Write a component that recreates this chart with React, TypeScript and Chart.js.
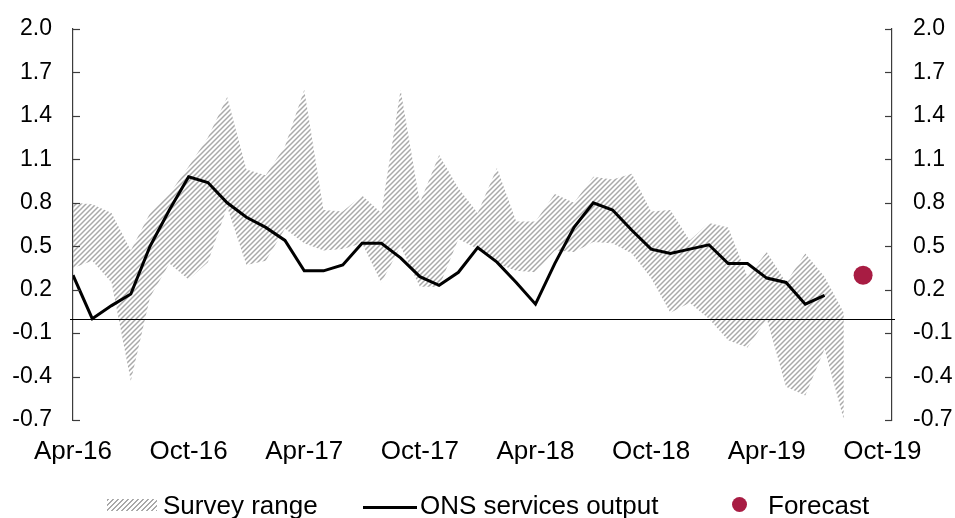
import React, { useEffect, useRef } from 'react';
import { Chart, registerables } from 'chart.js';

Chart.register(...registerables);

// X axis: month index 0 = Apr-16
const xTickPositions = [0, 6, 12, 18, 24, 30, 36, 42];
const xTickLabels = ['Apr-16', 'Oct-16', 'Apr-17', 'Oct-17', 'Apr-18', 'Oct-18', 'Apr-19', 'Oct-19'];
const yTicks = [-0.7, -0.4, -0.1, 0.2, 0.5, 0.8, 1.1, 1.4, 1.7, 2.0];

// ONS services output, Apr-16 .. Jul-19
const onsOutput = [
  0.30, 0.00, 0.09, 0.17, 0.50, 0.75, 0.98, 0.94, 0.80, 0.70, 0.63, 0.54,
  0.33, 0.33, 0.37, 0.52, 0.52, 0.42, 0.29, 0.23, 0.32, 0.49, 0.39, 0.25,
  0.10, 0.38, 0.63, 0.80, 0.75, 0.61, 0.48, 0.45, 0.48, 0.51, 0.38, 0.38,
  0.28, 0.25, 0.10, 0.16,
];

// Survey range, Apr-16 .. Aug-19
const surveyUpper = [
  0.80, 0.79, 0.73, 0.47, 0.73, 0.86, 1.05, 1.25, 1.53, 1.03, 0.99, 1.19,
  1.58, 0.75, 0.74, 0.85, 0.73, 1.58, 0.80, 1.13, 0.90, 0.73, 1.04, 0.67,
  0.67, 0.86, 0.80, 0.98, 0.96, 1.00, 0.74, 0.75, 0.54, 0.66, 0.63, 0.29,
  0.46, 0.25, 0.45, 0.29, 0.04,
];
const surveyLower = [
  0.35, 0.40, 0.25, -0.43, 0.15, 0.38, 0.27, 0.39, 0.77, 0.37, 0.40, 0.62,
  0.52, 0.47, 0.48, 0.52, 0.25, 0.50, 0.22, 0.22, 0.55, 0.48, 0.38, 0.33,
  0.32, 0.47, 0.46, 0.53, 0.52, 0.45, 0.28, 0.04, 0.11, 0.00, -0.15, -0.20,
  0.00, -0.47, -0.53, -0.21, -0.70,
];

// Forecast (Sep-19)
const forecastMonth = [41];
const forecastValue = [0.30];

const FONT = '"Liberation Sans", Arial, Helvetica, sans-serif';
const HATCH = '#a9a9a9';
const FORECAST_COLOR = '#a81c43';

function makeHatch(ctx: CanvasRenderingContext2D) {
  const p = 5;
  const c = document.createElement('canvas');
  c.width = p;
  c.height = p;
  const g = c.getContext('2d')!;
  g.strokeStyle = HATCH;
  g.lineWidth = 1.5;
  g.beginPath();
  g.moveTo(-1, p + 1);
  g.lineTo(p + 1, -1);
  g.moveTo(-1, 1);
  g.lineTo(1, -1);
  g.moveTo(p - 1, p + 1);
  g.lineTo(p + 1, p - 1);
  g.stroke();
  return ctx.createPattern(c, 'repeat')!;
}

const axisDecor = {
  id: 'axisDecor',
  afterDatasetsDraw(chart: any) {
    const ctx = chart.ctx;
    const area = chart.chartArea;
    const yl = chart.scales.yLeft;
    ctx.save();
    // zero line
    const y0 = Math.round(yl.getPixelForValue(0)) + 0.5;
    ctx.strokeStyle = '#000';
    ctx.lineWidth = 1.2;
    ctx.beginPath();
    ctx.moveTo(area.left - 3, y0);
    ctx.lineTo(area.right + 3, y0);
    ctx.stroke();
    // inward tick marks
    ctx.strokeStyle = '#3c3c3c';
    ctx.lineWidth = 1.2;
    ['yLeft', 'yRight'].forEach((id) => {
      const s = chart.scales[id];
      const x0 = id === 'yLeft' ? area.left : area.right;
      const dir = id === 'yLeft' ? 1 : -1;
      s.ticks.forEach((t: any) => {
        const y = Math.round(s.getPixelForValue(t.value)) + 0.5;
        ctx.beginPath();
        ctx.moveTo(x0, y);
        ctx.lineTo(x0 + dir * 7, y);
        ctx.stroke();
      });
    });
    ctx.restore();
  },
};

export default function App() {
  const ref = useRef<HTMLCanvasElement>(null);

  useEffect(() => {
    const canvas = ref.current!;
    const ctx = canvas.getContext('2d')!;
    const hatch = makeHatch(ctx);

    const yScale = (position: 'left' | 'right', width: number) => ({
      type: 'linear' as const,
      position,
      min: -0.7,
      max: 2.0,
      afterBuildTicks: (s: any) => {
        s.ticks = yTicks.map((v) => ({ value: v }));
      },
      afterFit: (s: any) => {
        s.width = width;
      },
      grid: {
        display: true,
        drawOnChartArea: false,
        drawTicks: true,
        tickLength: 21,
        tickColor: 'rgba(0,0,0,0)',
        color: 'rgba(0,0,0,0)',
      },
      border: { display: true, color: '#3c3c3c', width: 1.2 },
      ticks: {
        padding: 0,
        color: '#000',
        font: { family: FONT, size: 23 },
        callback: (v: any) => Number(v).toFixed(1),
      },
    });

    const chart = new Chart(canvas, {
      type: 'line',
      data: {
        datasets: [
          {
            label: 'ONS services output',
            data: onsOutput.map((v, i) => ({ x: i, y: v })),
            borderColor: '#000',
            borderWidth: 3,
            pointRadius: 0,
            fill: false,
            tension: 0,
            order: 0,
            yAxisID: 'yLeft',
          },
          {
            label: 'Forecast',
            data: forecastMonth.map((m, i) => ({ x: m, y: forecastValue[i] })),
            showLine: false,
            pointRadius: 9.5,
            pointBackgroundColor: FORECAST_COLOR,
            pointBorderColor: FORECAST_COLOR,
            pointBorderWidth: 0,
            order: 1,
            yAxisID: 'yLeft',
          },
          {
            label: 'Survey range',
            data: surveyUpper.map((v, i) => ({ x: i, y: v })),
            borderWidth: 0,
            borderColor: 'rgba(0,0,0,0)',
            backgroundColor: hatch,
            pointRadius: 0,
            fill: '+1',
            tension: 0,
            order: 2,
            yAxisID: 'yLeft',
          },
          {
            label: 'Survey lower',
            data: surveyLower.map((v, i) => ({ x: i, y: v })),
            borderWidth: 0,
            borderColor: 'rgba(0,0,0,0)',
            pointRadius: 0,
            fill: false,
            tension: 0,
            order: 3,
            yAxisID: 'yLeft',
          },
        ],
      },
      options: {
        animation: false,
        responsive: false,
        devicePixelRatio: 1,
        layout: { padding: { top: 29, bottom: 0, left: 0, right: 0 } },
        plugins: {
          legend: { display: false },
          tooltip: { enabled: false },
        },
        scales: {
          x: {
            type: 'linear',
            min: 0,
            max: 42.5,
            afterBuildTicks: (s: any) => {
              s.ticks = xTickPositions.map((v) => ({ value: v }));
            },
            afterFit: (s: any) => {
              s.height = 98;
            },
            grid: { display: false, drawTicks: false },
            border: { display: false },
            ticks: {
              padding: 16,
              maxRotation: 0,
              autoSkip: false,
              color: '#000',
              font: { family: FONT, size: 26 },
              callback: (v: any) => {
                const k = xTickPositions.indexOf(Number(v));
                return k >= 0 ? xTickLabels[k] : '';
              },
            },
          },
          yLeft: yScale('left', 73),
          yRight: yScale('right', 63),
        },
      },
      plugins: [axisDecor],
    });

    return () => chart.destroy();
  }, []);

  const textStyle: React.CSSProperties = {
    position: 'absolute',
    top: 490,
    height: 30,
    lineHeight: '30px',
    fontFamily: FONT,
    fontSize: 26,
    color: '#000',
    whiteSpace: 'nowrap',
  };

  return (
    <div style={{ position: 'absolute', left: 0, top: 0, width: 955, height: 518, background: '#fff', overflow: 'hidden' }}>
      <canvas ref={ref} width={955} height={518} style={{ display: 'block', width: 955, height: 518 }} />
      <div
        style={{
          position: 'absolute',
          left: 107,
          top: 499,
          width: 50,
          height: 12,
          background: `repeating-linear-gradient(-45deg, ${HATCH} 0px, ${HATCH} 1.4px, #fff 1.4px, #fff 3.5px)`,
        }}
      />
      <span style={{ ...textStyle, left: 163 }}>Survey range</span>
      <div style={{ position: 'absolute', left: 363, top: 506, width: 54, height: 3, background: '#000' }} />
      <span style={{ ...textStyle, left: 420 }}>ONS services output</span>
      <div
        style={{
          position: 'absolute',
          left: 732,
          top: 497,
          width: 15,
          height: 15,
          borderRadius: '50%',
          background: FORECAST_COLOR,
        }}
      />
      <span style={{ ...textStyle, left: 768 }}>Forecast</span>
    </div>
  );
}
